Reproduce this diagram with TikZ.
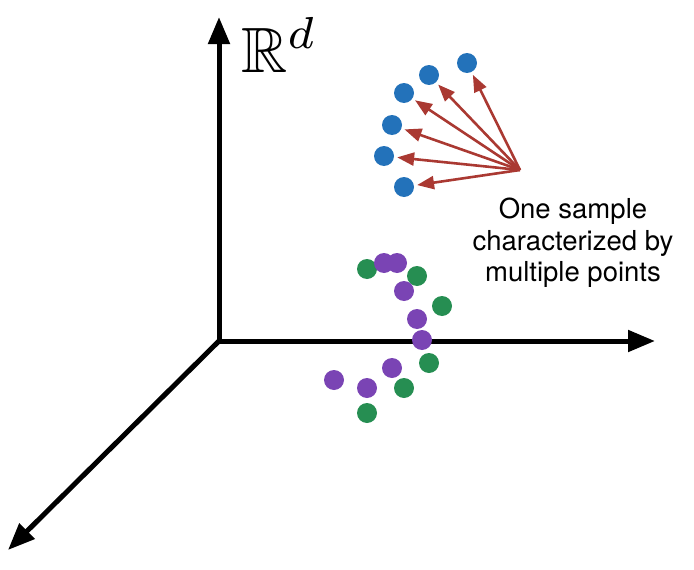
\documentclass[tikz,border=0pt]{standalone}
\usepackage{amssymb}
\usepackage{graphicx}
\usepackage{fontspec}
\setsansfont{TeX Gyre Heros}
\definecolor{ptblue}{RGB}{35,114,186}
\definecolor{ptpurple}{RGB}{122,68,180}
\definecolor{ptgreen}{RGB}{38,142,82}
\definecolor{ptred}{RGB}{170,57,50}
\usetikzlibrary{arrows.meta}

\begin{document}
\begin{tikzpicture}[x=1pt, y=-1pt,
  ptdot/.style={circle, inner sep=0pt, minimum size=20pt},
  axisline/.style={line width=5pt, >={Triangle[length=27pt,width=21pt]}},
  fanarrow/.style={line width=2.6pt, draw=ptred, >={Triangle[length=17pt,width=13pt]}, ->, shorten >=3pt}]
  \useasboundingbox (0,0) rectangle (694,570);

  % Axes
  \coordinate (origin) at (219,341);
  \coordinate (ytip) at (219,17);
  \coordinate (xtip) at (655,341);
  \coordinate (ztip) at (8,550);
  \draw[axisline, <->] (ytip) -- (origin) -- (xtip);
  \draw[axisline, ->] (origin) -- (ztip);

  % Space label
  \node[anchor=base west, inner sep=0pt] (space) at (241,72) {\scalebox{6.4}{$\mathbb{R}^d$}};

  % One sample: blue points
  \node[ptdot, fill=ptblue] (b1) at (467,63) {};
  \node[ptdot, fill=ptblue] (b2) at (429,75) {};
  \node[ptdot, fill=ptblue] (b3) at (404,93) {};
  \node[ptdot, fill=ptblue] (b4) at (392,125) {};
  \node[ptdot, fill=ptblue] (b5) at (384,156) {};
  \node[ptdot, fill=ptblue] (b6) at (404,187) {};

  % Fan of arrows to the points
  \coordinate (fan) at (520,170);
  \draw[fanarrow] (fan) -- (b1);
  \draw[fanarrow] (fan) -- (b2);
  \draw[fanarrow] (fan) -- (b3);
  \draw[fanarrow] (fan) -- (b4);
  \draw[fanarrow] (fan) -- (b5);
  \draw[fanarrow] (fan) -- (b6);

  \node[font=\sffamily\fontsize{27.5}{31.5}\selectfont, align=center] (caption) at (573,243) {One sample\\characterized by\\multiple points};

  % Green points
  \node[ptdot, fill=ptgreen] (g1) at (367,269) {};
  \node[ptdot, fill=ptgreen] (g2) at (417,276) {};
  \node[ptdot, fill=ptgreen] (g3) at (442,306) {};
  \node[ptdot, fill=ptgreen] (g4) at (429,363) {};
  \node[ptdot, fill=ptgreen] (g5) at (404,388) {};
  \node[ptdot, fill=ptgreen] (g6) at (367,413) {};

  % Purple points
  \node[ptdot, fill=ptpurple] (p1) at (384,263) {};
  \node[ptdot, fill=ptpurple] (p2) at (397,263) {};
  \node[ptdot, fill=ptpurple] (p3) at (404,291) {};
  \node[ptdot, fill=ptpurple] (p4) at (417,319) {};
  \node[ptdot, fill=ptpurple] (p5) at (422,340) {};
  \node[ptdot, fill=ptpurple] (p6) at (392,368) {};
  \node[ptdot, fill=ptpurple] (p7) at (334,380) {};
  \node[ptdot, fill=ptpurple] (p8) at (367,388) {};
\end{tikzpicture}
\end{document}
